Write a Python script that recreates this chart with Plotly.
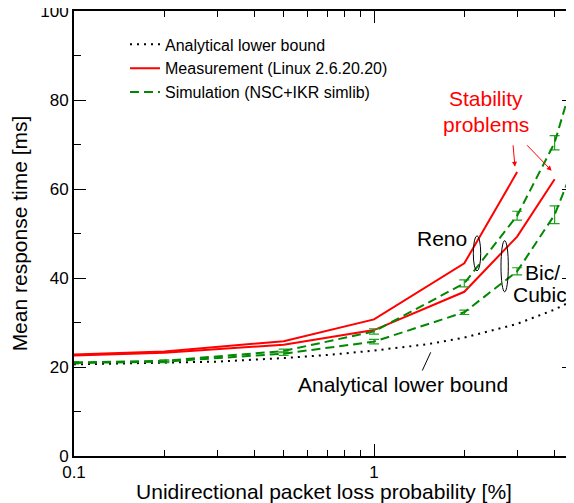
import plotly.graph_objects as go
import math

# ---- data ----
loss_pct = [0.1, 0.2, 0.5, 1, 2, 3, 4, 5]

analytic_x = [0.1, 0.2, 0.3, 0.5, 0.7, 1, 1.5, 2, 3, 4, 5]
analytic_y = [20.6, 20.9, 21.2, 22.0, 22.7, 23.7, 25.1, 26.6, 29.7, 32.9, 36.2]

meas_reno_x = [0.1, 0.2, 0.5, 1, 2, 3]
meas_reno_y = [22.8, 23.5, 25.8, 30.7, 43.3, 63.8]

meas_bic_x = [0.1, 0.2, 0.5, 1, 2, 3, 4]
meas_bic_y = [22.6, 23.2, 25.0, 28.3, 36.9, 49.3, 62.2]

sim_reno_y = [21.0, 21.4, 23.6, 28.0, 38.8, 54.0, 70.4, 92.6]
sim_reno_err = [0.2, 0.2, 0.4, 0.6, 0.8, 1.0, 1.6, 2.0]

sim_bic_y = [20.9, 21.2, 23.0, 25.7, 32.3, 41.5, 54.2, 70.6]
sim_bic_err = [0.2, 0.2, 0.4, 0.5, 0.5, 0.8, 2.0, 2.0]

x_tick_vals = [0.1, 1]
x_tick_text = ["0.1", "1"]
x_minor_vals = [0.2, 0.3, 0.4, 0.5, 0.6, 0.7, 0.8, 0.9, 2, 3, 4]

RED = "#ff0000"
GREEN = "#008800"
GREEN_ERR = "#22a022"
FONT = "Liberation Sans, Arial, sans-serif"

fig = go.Figure()

fig.add_trace(go.Scatter(
    x=analytic_x, y=analytic_y, mode="lines",
    name="Analytical lower bound",
    line=dict(color="black", width=2, dash="2px,5px"),
))
fig.add_trace(go.Scatter(
    x=meas_reno_x, y=meas_reno_y, mode="lines",
    name="Measurement (Linux 2.6.20.20)", legendgroup="meas",
    line=dict(color=RED, width=2),
))
fig.add_trace(go.Scatter(
    x=meas_bic_x, y=meas_bic_y, mode="lines",
    name="Measurement (Linux 2.6.20.20)", legendgroup="meas", showlegend=False,
    line=dict(color=RED, width=2),
))
fig.add_trace(go.Scatter(
    x=loss_pct, y=sim_reno_y, mode="lines",
    name="Simulation (NSC+IKR simlib)", legendgroup="sim",
    line=dict(color=GREEN, width=2, dash="9px,5px"),
    error_y=dict(type="data", array=sim_reno_err, visible=True,
                 color=GREEN_ERR, thickness=1.2, width=5),
))
fig.add_trace(go.Scatter(
    x=loss_pct, y=sim_bic_y, mode="lines",
    name="Simulation (NSC+IKR simlib)", legendgroup="sim", showlegend=False,
    line=dict(color=GREEN, width=2, dash="9px,5px"),
    error_y=dict(type="data", array=sim_bic_err, visible=True,
                 color=GREEN_ERR, thickness=1.2, width=5),
))

L = math.log10

annotations = [
    dict(x=0.3733, y=80.3, text="Stability", showarrow=False,
         font=dict(color=RED, size=21, family=FONT)),
    dict(x=0.3733, y=74.5, text="problems", showarrow=False,
         font=dict(color=RED, size=21, family=FONT)),
    dict(x=L(2.95), y=65.0, ax=-2, ay=-23, axref="pixel", ayref="pixel",
         text="", showarrow=True, arrowhead=2, arrowsize=1, arrowwidth=1,
         arrowcolor=RED),
    dict(x=L(3.91), y=64.1, ax=-26, ay=-27, axref="pixel", ayref="pixel",
         text="", showarrow=True, arrowhead=2, arrowsize=1, arrowwidth=1,
         arrowcolor=RED),
    dict(x=0.2267, y=48.8, text="Reno", showarrow=False,
         font=dict(color="black", size=21, family=FONT)),
    dict(x=0.5633, y=41.2, text="Bic/", showarrow=False,
         font=dict(color="black", size=21, family=FONT)),
    dict(x=0.5533, y=36.3, text="Cubic", showarrow=False,
         font=dict(color="black", size=21, family=FONT)),
    dict(x=0.0967, y=16.0, text="Analytical lower bound", showarrow=False,
         font=dict(color="black", size=21, family=FONT)),
]

# shapes on a log axis take data values
shapes = [
    dict(type="circle", xref="x", yref="y", x0=10 ** 0.331, x1=10 ** 0.3557,
         y0=41.6, y1=49.5, line=dict(color="black", width=1)),
    dict(type="circle", xref="x", yref="y", x0=10 ** 0.4233, x1=10 ** 0.4477,
         y0=36.9, y1=48.4, line=dict(color="black", width=1)),
    dict(type="line", xref="x", yref="y", x0=10 ** 0.189, y0=23.3,
         x1=10 ** 0.161, y1=19.2, line=dict(color="black", width=1)),
]

# the page body adds an 8px margin; the figure is sized to fit the window
fig.update_layout(
    width=566, height=495,
    margin=dict(l=66, r=0, t=3, b=47, autoexpand=False),
    paper_bgcolor="white", plot_bgcolor="white",
    font=dict(family=FONT, color="black", size=17),
    showlegend=True,
    legend=dict(x=0.102, y=0.963, xanchor="left", yanchor="top",
                bgcolor="rgba(0,0,0,0)", borderwidth=0,
                font=dict(size=16, family=FONT), itemwidth=30,
                tracegroupgap=0),
    annotations=annotations,
    shapes=shapes,
)

fig.update_xaxes(
    type="log", range=[-1, -1 + 500 / 300], automargin=False,
    tickmode="array", tickvals=x_tick_vals, ticktext=x_tick_text,
    ticks="inside", ticklen=12, tickwidth=1, tickcolor="black",
    showline=True, linecolor="black", linewidth=2, mirror="ticks",
    showgrid=False, zeroline=False, ticklabeloverflow="allow",
    tickfont=dict(size=17, family=FONT),
    minor=dict(tickmode="array", tickvals=x_minor_vals, ticks="inside",
               ticklen=6, tickwidth=1, tickcolor="black", showgrid=False),
    title=dict(text="Unidirectional packet loss probability [%]",
               font=dict(size=21, family=FONT), standoff=6),
)
fig.update_yaxes(
    range=[0, 100], dtick=20, tick0=0, automargin=False,
    ticks="inside", ticklen=12, tickwidth=1, tickcolor="black",
    showline=True, linecolor="black", linewidth=2, mirror="ticks",
    showgrid=False, zeroline=False, ticklabeloverflow="allow",
    tickfont=dict(size=17, family=FONT),
    minor=dict(dtick=10, ticks="inside", ticklen=7, tickwidth=1,
               tickcolor="black", showgrid=False),
    title=dict(text="Mean response time [ms]",
               font=dict(size=21, family=FONT), standoff=12),
)

fig.write_html("out.html")
